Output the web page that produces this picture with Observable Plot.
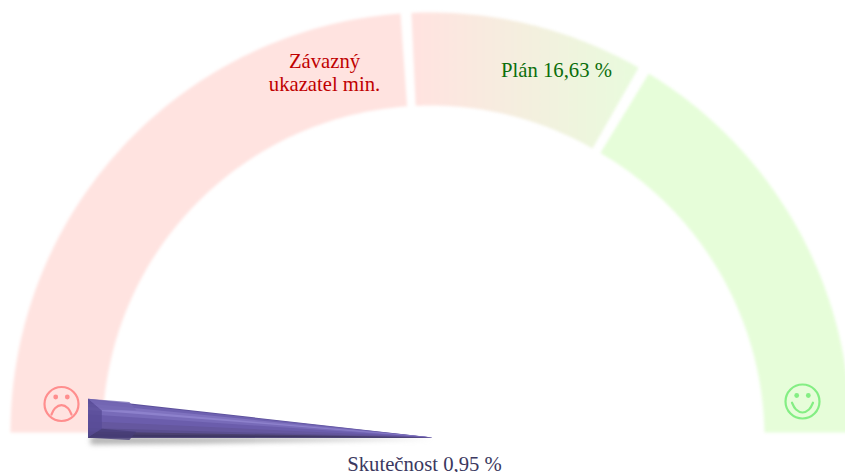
<!DOCTYPE html>
<html><head><meta charset="utf-8">
<script src="https://cdn.jsdelivr.net/npm/d3@7"></script>
<script src="https://cdn.jsdelivr.net/npm/@observablehq/plot@0.6"></script>
<style>html,body{margin:0;padding:0;background:#fff}svg{display:block}</style>
</head><body><div id="chart"></div>
<script>
// gauge bands, degrees clockwise from the left end of the dial
const bandNames = ["min", "plan", "good"];
const bandStart = [0, 87.4, 121.3];
const bandEnd = [85.9, 119.7, 180];
const bandFill = ["#ffe3e0", "url(#planGrad)", "#e6fdd9"];
const bandInnerStart = [328, 327, 327];
const bandInnerEnd = [327, 327, 334];
const gaugeCenter = [430, 432];
const outerR = 420;
const needleAngle = 3.2, needleLen = 345, needleHalf = 19.5;
// needle lengthwise stripes painted top to bottom: across position -1..1, colour
const stripeAcross = [-1, -0.93, -0.75, -0.58, -0.42, -0.2, 0.15, 0.5, 0.68, 0.82, 0.95];
const stripeColor = ["#5d519c", "#6e61b0", "#7f72bf", "#8d81cc", "#786bb9", "#6b5dac", "#65579f", "#5b4f90", "#4b416f", "#3f3765", "#5a5180"];
const bevels = [
  ["left", "#574b96", [[0,-1],[0,1],[0.04,0.5],[0.04,-0.45]]],
  ["top", "#7468b4", [[0,-1],[0.04,-0.45],[0.14,-0.55],[0.12,-0.95]]],
  ["bottom", "#473d78", [[0,1],[0.04,0.5],[0.14,0.55],[0.12,1]]]
];
const labels = [
  {t:"Závazný", x:324, y:67, c:"#c00000"},
  {t:"ukazatel min.", x:324, y:90, c:"#c00000"},
  {t:"Plán 16,63 %", x:556, y:76, c:"#0b6e0b"},
  {t:"Skutečnost 0,95 %", x:424, y:470, c:"#3b3860"}
];
const faces = [
  {x:61, y:403.5, c:"#ff8e8e", eyeDy:-7, mouth:[[-10,10.5],[-6.5,4.2],[0,1.2],[6.5,4.2],[10,10.5]]},
  {x:802, y:401, c:"#84ee84", eyeDy:-6, mouth:[[-10.5,1.2],[-6.5,8],[0,11],[6.5,8],[10.5,1.2]]}
];

const polar = (deg, r) => {
  const a = deg * Math.PI / 180;
  return [gaugeCenter[0] - r * Math.cos(a), gaugeCenter[1] - r * Math.sin(a)];
};
const bandPts = [];
bandNames.forEach((name, i) => {
  const n = 80, s = bandStart[i], e = bandEnd[i];
  const ring = [];
  for (let k = 0; k <= n; k++) ring.push(polar(s + (e - s) * k / n, outerR));
  for (let k = n; k >= 0; k--) ring.push(polar(s + (e - s) * k / n, bandInnerStart[i] + (bandInnerEnd[i] - bandInnerStart[i]) * k / n));
  ring.forEach(p => bandPts.push({name, x:p[0], y:p[1]}));
});
const tip = [432, 437];
const nA = needleAngle * Math.PI / 180;
const needlePt = ([u, v]) => [
  tip[0] - needleLen * (1 - u) * Math.cos(nA),
  tip[1] - needleLen * (1 - u) * Math.sin(nA) + needleHalf * v * (1 - u)
];
const stripes = stripeAcross.map((v, i) => ({
  id: i, fill: stripeColor[i],
  pts: [[0, v], [0, 1], [1, 0]].map(p => { const q = needlePt(p); return {x:q[0], y:q[1]}; })
}));
const bevelShapes = bevels.map(([name, fill, pts]) => ({
  name, fill, pts: pts.map(p => { const q = needlePt([p[0], p[1] / (1 - p[0])]); return {x:q[0], y:q[1]}; })
}));
const shadowPts = [[90,436],[90,444],[200,443],[432,438.5]].map(p => ({x:p[0], y:p[1]}));

const mouthPts = faces.flatMap(f => f.mouth.map(m => ({id:f.x, c:f.c, x:f.x + m[0], y:f.y + m[1]})));
const eyes = faces.flatMap(f => [-5.8, 5.8].map(d => ({x:f.x + d, y:f.y + f.eyeDy, c:f.c})));

const defs = () => {
  const d = document.createElementNS("http://www.w3.org/2000/svg", "defs");
  d.innerHTML = `<linearGradient id="planGrad" x1="0" x2="1" y1="0" y2="0">
    <stop offset="0.03" stop-color="#ffe3e0"/><stop offset="1" stop-color="#e8fbdc"/></linearGradient>`;
  return d;
};

const chart = Plot.plot({
  width: 845, height: 472,
  margin: 0,
  x: {domain:[0,845], range:[0,845], axis:null},
  y: {domain:[0,472], range:[0,472], axis:null},
  marks: [
    defs,
    ...bandNames.map((name, i) => Plot.line(bandPts.filter(d => d.name === name), {
      x:"x", y:"y", fill:bandFill[i], stroke:"none", curve:"linear-closed", imageFilter:"blur(1.6px)"
    })),
    Plot.dot(faces, {x:"x", y:"y", r:17, stroke:"c", strokeWidth:2.2, fill:"none"}),
    Plot.dot(eyes, {x:"x", y:"y", r:2.4, fill:"c"}),
    Plot.line(mouthPts, {x:"x", y:"y", z:"id", stroke:"c", strokeWidth:2.2, curve:"catmull-rom"}),
    Plot.line(shadowPts, {x:"x", y:"y", fill:"#999", stroke:"none", fillOpacity:0.75, curve:"linear-closed", imageFilter:"blur(2.5px)"}),
    ...stripes.map(s => Plot.line(s.pts, {x:"x", y:"y", fill:s.fill, stroke:"none", curve:"linear-closed", imageFilter:"blur(0.4px)"})),
    ...bevelShapes.map(s => Plot.line(s.pts, {x:"x", y:"y", fill:s.fill, stroke:"none", fillOpacity:0.8, curve:"linear-closed", imageFilter:"blur(0.7px)"})),
    Plot.text(labels, {x:"x", y:"y", text:"t", fill:"c", fontSize:20.7, fontFamily:"Liberation Serif", textAnchor:"middle", lineAnchor:"bottom"})
  ]
});
document.getElementById("chart").append(chart);
</script></body></html>
